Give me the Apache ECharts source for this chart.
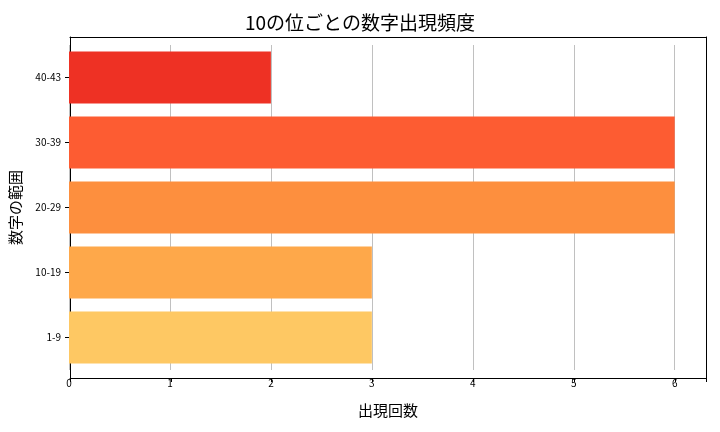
<!DOCTYPE html>
<html><head><meta charset="utf-8">
<script src="https://cdn.jsdelivr.net/npm/echarts@6/dist/echarts.min.js"></script>
<style>html,body{margin:0;padding:0;background:#fff}#c{width:720px;height:432px}</style>
</head><body><div id="c"></div>
<script>
const categories = ['1-9','10-19','20-29','30-39','40-43'];
const values = [3,3,6,6,2];
const colors = ['#fec863','#fea84a','#fd8f3e','#fd5c32','#ee3124'];
const xTicks = [0,1,2,3,4,5,6];
const font = '"Noto Sans CJK JP", sans-serif';
const chart = echarts.init(document.getElementById('c'));
chart.setOption({
  animation:false,
  title:{text:'10の位ごとの数字出現頻度',left:'center',top:8,textStyle:{fontFamily:font,fontSize:19,fontWeight:'normal',color:'#000'}},
  grid:[
    {left:69,right:14,top:45,bottom:62},
    {left:69,right:14,top:37,bottom:54}
  ],
  xAxis:[
    {gridIndex:0,type:'value',min:0,max:6.31,interval:1,
     axisLabel:{fontFamily:font,fontSize:10,color:'#000',formatter:v=>xTicks.includes(v)?String(v):''},
     axisLine:{show:false},axisTick:{show:false},
     splitLine:{show:true,lineStyle:{color:'#b0b0b0',width:0.8}}},
    {gridIndex:1,type:'value',min:0,max:6.31,interval:1,position:'bottom',
     name:'出現回数',nameLocation:'middle',nameGap:25,nameTextStyle:{fontFamily:font,fontSize:15,color:'#000'},
     axisLabel:{show:false},axisTick:{show:true,length:4,lineStyle:{color:'#000'}},
     axisLine:{show:true,onZero:false,lineStyle:{color:'#000'}},splitLine:{show:false}},
    {gridIndex:1,type:'value',min:0,max:1,position:'top',axisLabel:{show:false},axisTick:{show:false},
     axisLine:{show:true,onZero:false,lineStyle:{color:'#000'}},splitLine:{show:false}}
  ],
  yAxis:[
    {gridIndex:0,type:'category',data:categories,
     axisLabel:{fontFamily:font,fontSize:10,color:'#000',margin:8},
     axisLine:{show:false},axisTick:{show:true,alignWithLabel:true,length:4,lineStyle:{color:'#000'}}},
    {gridIndex:1,type:'value',min:0,max:1,position:'left',
     name:'数字の範囲',nameLocation:'middle',nameGap:47,nameTextStyle:{fontFamily:font,fontSize:15,color:'#000'},
     axisLabel:{show:false},axisTick:{show:false},splitLine:{show:false},
     axisLine:{show:true,onZero:false,lineStyle:{color:'#000'}}},
    {gridIndex:1,type:'value',min:0,max:1,position:'right',axisLabel:{show:false},axisTick:{show:false},splitLine:{show:false},
     axisLine:{show:true,onZero:false,lineStyle:{color:'#000'}}}
  ],
  series:[{type:'bar',xAxisIndex:0,yAxisIndex:0,barWidth:52,
    data:values.map((v,i)=>({value:v,itemStyle:{color:colors[i]}}))}]
});
</script></body></html>
